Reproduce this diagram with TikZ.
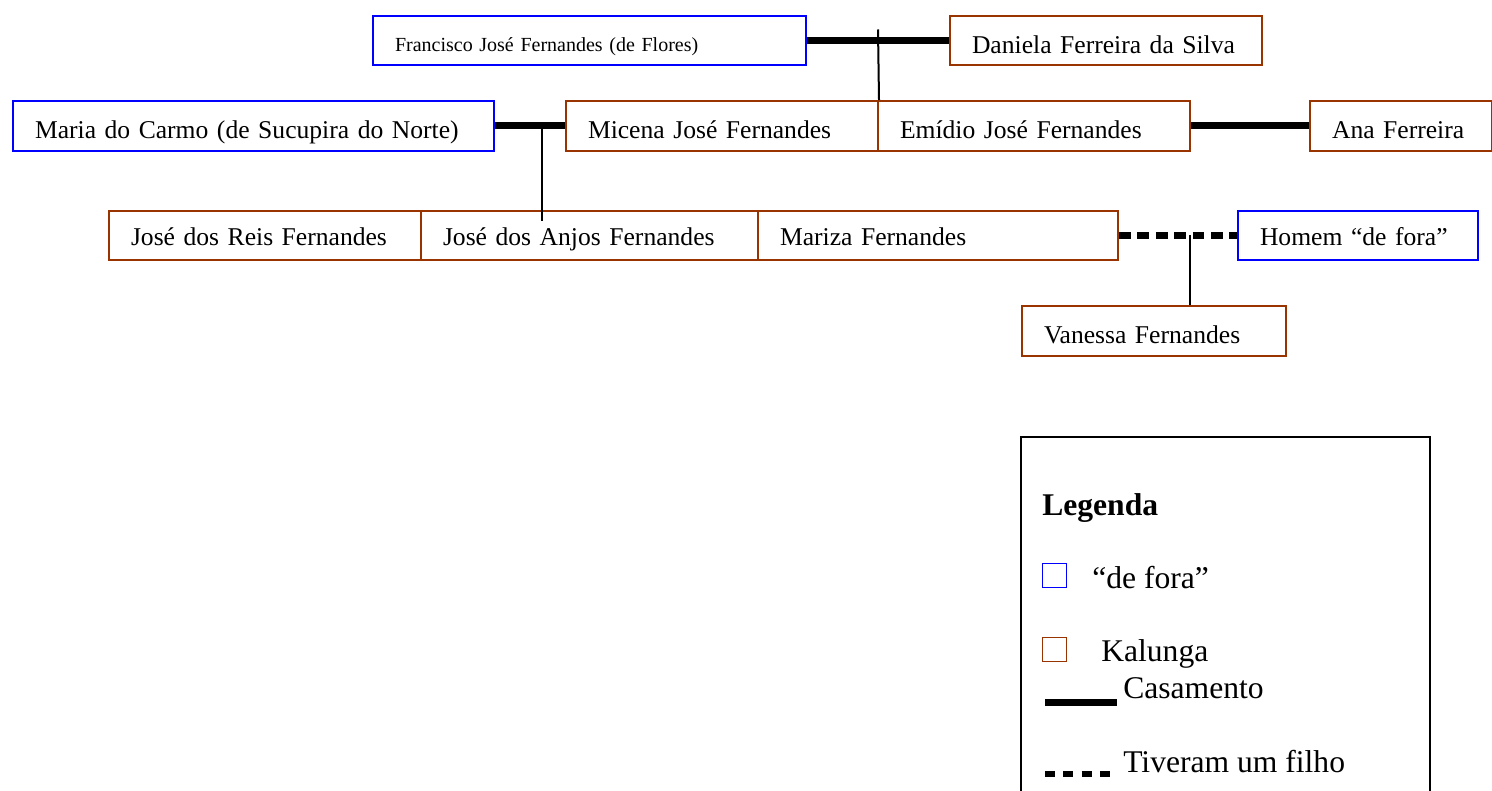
\documentclass[tikz,border=0pt]{standalone}
\usepackage{fontspec}
\setmainfont{Liberation Serif}
\usetikzlibrary{calc}
\definecolor{kal}{HTML}{993300}
\definecolor{forac}{HTML}{0000FF}
\begin{document}
\begin{tikzpicture}[x=0.75pt,y=-0.75pt,
 person/.style={draw, line width=1.5pt, anchor=north west, inner xsep=16.5pt, inner ysep=0pt,
   align=left, minimum height=36.75pt, font=\fontsize{19.2pt}{22pt}\selectfont,
   text height=24pt, text depth=4.5pt},
 tall/.style={minimum height=37.5pt},
 lowrow/.style={text height=19.5pt},
 outsider/.style={person, draw=forac},
 kalunga/.style={person, draw=kal},
 marriage/.style={line width=5.25pt},
 child/.style={line width=5.25pt, dash pattern=on 8.8pt off 5pt},
 descent/.style={line width=1.5pt},
 legendtext/.style={anchor=base west, font=\fontsize{23.7pt}{28pt}\selectfont, inner sep=0pt},
 legendbox/.style={line width=1.5pt},
 swatch/.style={line width=1.1pt, minimum size=18pt, inner sep=0pt, anchor=north west}
]
\useasboundingbox (0,0) rectangle (1492,791);

% row 1
\node[outsider, text width=291.75pt, font=\fontsize{15pt}{18pt}\selectfont, text height=21.75pt] (fran) at (372,15) {\mbox{Francisco José Fernandes (de Flores)}};
\node[kalunga, text width=201pt] (dan) at (949,15) {\mbox{Daniela Ferreira da Silva}};

% row 2
\node[outsider, tall, text width=327.75pt] (maria) at (12,100) {\mbox{Maria do Carmo (de Sucupira do Norte)}};
\node[kalunga, tall, text width=201pt] (micena) at (565,100) {\mbox{Micena José Fernandes}};
\node[kalunga, tall, text width=201pt] (emidio) at (877,100) {\mbox{Emídio José Fernandes}};
\node[kalunga, tall, text width=103.5pt] (ana) at (1309,100) {\mbox{Ana Ferreira}};

% row 3
\node[kalunga, lowrow, text width=201pt] (reis) at (108,210) {\mbox{José dos Reis Fernandes}};
\node[kalunga, lowrow, text width=219.75pt] (anjos) at (420,210) {\mbox{José dos Anjos Fernandes}};
\node[kalunga, lowrow, text width=237pt] (mariza) at (757,210) {\mbox{Mariza Fernandes}};
\node[outsider, lowrow, text width=147pt] (homem) at (1237,210) {\mbox{Homem “de fora”}};

% row 4
\node[kalunga, tall, text width=165pt] (vanessa) at (1021,305) {\mbox{Vanessa Fernandes}};

% connectors
\draw[marriage] (fran.east) -- (dan.west);
\coordinate (c1) at ($(fran.east)!0.5!(dan.west)$);
\draw[descent] ($(c1)+(0,-11)$) -- (micena.north east);

\draw[marriage] (maria.east) -- (micena.west);
\coordinate (c2) at ($(maria.east)!0.667!(micena.west)$);
\draw[descent] (c2) -- ($(c2 |- anjos.north)+(0,11)$);

\draw[marriage] (emidio.east) -- (ana.west);

\draw[child] (mariza.east) -- (homem.west);
\coordinate (c3) at ($(mariza.east)!0.6!(homem.west)$);
\draw[descent] (c3) -- (c3 |- vanessa.north);

% legend
\draw[legendbox] (1021,792) -- (1021,437) -- (1430,437) -- (1430,792);
\node[legendtext, font=\fontsize{23.7pt}{28pt}\selectfont\bfseries] (ltitle) at (1042,515) {Legenda};
\node[swatch, draw=forac] (sfora) at (1042,563) {};
\node[legendtext] (tfora) at (1092,588) {“de fora”};
\node[swatch, draw=kal] (skal) at (1042,637) {};
\node[legendtext] (tkal) at (1101,661) {Kalunga};
\coordinate (m1) at (1045,702);
\coordinate (m2) at (1117,702);
\draw[marriage] (m1) -- (m2);
\node[legendtext] (tcas) at (1123,698) {Casamento};
\coordinate (d1) at (1045,774);
\coordinate (d2) at (1113,774);
\draw[line width=4.5pt, dash pattern=on 7.5pt off 6.2pt] (d1) -- (d2);
\node[legendtext] (tfil) at (1123,772) {Tiveram um filho};
\end{tikzpicture}
\end{document}
